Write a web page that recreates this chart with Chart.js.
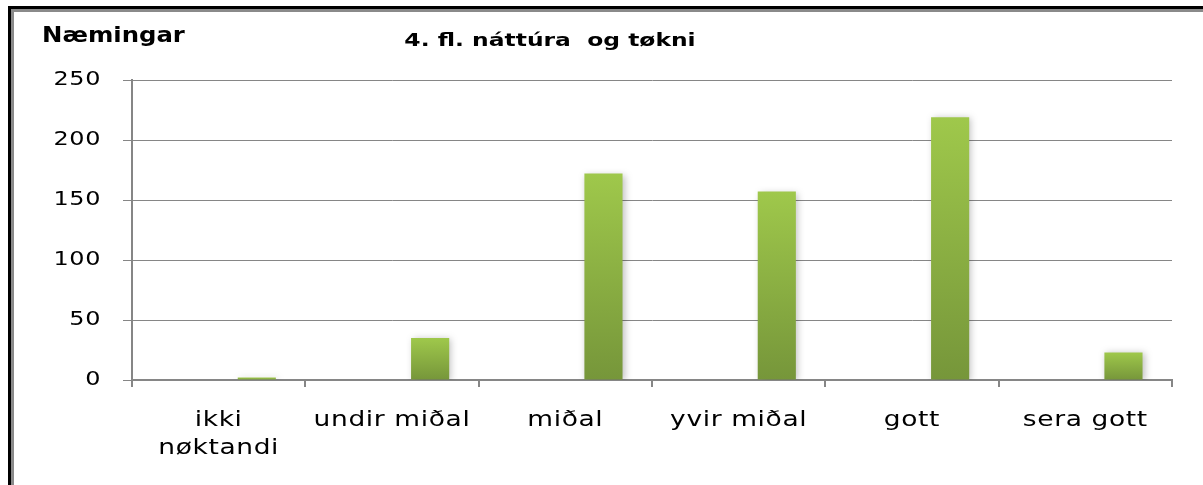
<!DOCTYPE html>
<html>
<head>
<meta charset="utf-8">
<script src="https://cdn.jsdelivr.net/npm/chart.js@4"></script>
<style>
  html, body { margin: 0; padding: 0; background: #fff; }
  #wrap { position: relative; width: 1203px; height: 485px; }
</style>
</head>
<body>
<div id="wrap"><canvas id="chart" width="1203" height="485"></canvas></div>
<script>
// data
const categories = [['ikki', 'nøktandi'], 'undir miðal', 'miðal', 'yvir miðal', 'gott', 'sera gott'];
const emptyA = [null, null, null, null, null, null];
const emptyB = [null, null, null, null, null, null];
const pupils = [2, 35, 172, 157, 219, 23];
const yTicks = [0, 50, 100, 150, 200, 250];

const yTitle = 'Næmingar';
const chartTitle = '4. fl. náttúra  og tøkni';

// the original text is drawn wide, so stretch glyphs horizontally
let textStretch = 1.26;

// gradient for each bar, light on top, darker at the base
function barGradient(context) {
  const chart = context.chart;
  const y = chart.scales.y;
  if (!y || !context.parsed || context.parsed.y == null) return '#8db342';
  const top = y.getPixelForValue(context.parsed.y);
  const base = y.getPixelForValue(0);
  if (!isFinite(top) || !isFinite(base) || top === base) return '#8db342';
  const g = chart.ctx.createLinearGradient(0, top, 0, base);
  g.addColorStop(0, '#9fc84b');
  g.addColorStop(1, '#76963a');
  return g;
}

const decor = {
  id: 'decor',
  beforeInit(chart) {
    const ctx = chart.ctx;
    const fill = ctx.fillText;
    ctx.fillText = function(text, x, y) {
      this.save();
      this.translate(x, y);
      this.scale(textStretch, 1);
      fill.call(this, text, 0, 0);
      this.restore();
    };
  },
  beforeDraw(chart) {
    chart.ctx.letterSpacing = '0.5px';
  },
  beforeDatasetsDraw(chart) {
    const ctx = chart.ctx;
    ctx.save();
    ctx.shadowColor = 'rgba(0, 0, 0, 0.25)';
    ctx.shadowBlur = 7;
    ctx.shadowOffsetX = 2;
    ctx.shadowOffsetY = 1;
  },
  afterDatasetsDraw(chart) {
    chart.ctx.restore();
  },
  afterDraw(chart) {
    const ctx = chart.ctx;
    ctx.save();
    // frame on the left and top
    ctx.fillStyle = '#000';
    ctx.fillRect(8, 6, 3, chart.height - 6);
    ctx.fillRect(8, 6, chart.width - 8, 3);
    ctx.fillStyle = '#8a8a8a';
    ctx.fillRect(11, 9, 3, chart.height - 9);
    ctx.fillRect(11, 9, chart.width - 11, 3);

    ctx.fillStyle = '#000';
    ctx.textBaseline = 'middle';
    ctx.letterSpacing = '0px';
    textStretch = 1.16;
    ctx.font = 'bold 21px "DejaVu Sans"';
    ctx.textAlign = 'left';
    ctx.fillText(yTitle, 42, 37);

    textStretch = 1.3;
    ctx.font = 'bold 18px "DejaVu Sans"';
    ctx.textAlign = 'center';
    ctx.fillText(chartTitle, 550, 41);
    textStretch = 1.26;
    ctx.restore();
    ctx.letterSpacing = '0px';
  }
};

new Chart(document.getElementById('chart'), {
  type: 'bar',
  data: {
    labels: categories,
    datasets: [
      { label: 'a', data: emptyA, backgroundColor: '#4f81bd' },
      { label: 'b', data: emptyB, backgroundColor: '#c0504d' },
      { label: 'Næmingar', data: pupils, backgroundColor: barGradient }
    ]
  },
  options: {
    responsive: false,
    animation: false,
    devicePixelRatio: 1,
    categoryPercentage: 0.66,
    barPercentage: 1,
    layout: { padding: { top: 80, right: 31, left: 0, bottom: 0 } },
    plugins: {
      legend: { display: false },
      tooltip: { enabled: false },
      title: { display: false }
    },
    scales: {
      x: {
        afterFit(scale) { scale.height = 105; },
        grid: {
          drawOnChartArea: false,
          drawTicks: true,
          tickLength: 7,
          color: '#868686',
          lineWidth: 2
        },
        border: { color: '#868686', width: 2 },
        ticks: {
          color: '#000',
          maxRotation: 0,
          autoSkip: false,
          padding: 19,
          font: { family: '"DejaVu Sans"', size: 21, lineHeight: 1.34 }
        }
      },
      y: {
        min: 0,
        max: 250,
        afterFit(scale) { scale.width = 132; },
        afterBuildTicks(scale) { scale.ticks = yTicks.map(v => ({ value: v })); },
        grid: {
          color: '#868686',
          lineWidth: 1,
          drawTicks: true,
          tickLength: 9
        },
        border: { color: '#868686', width: 2 },
        ticks: {
          color: '#000',
          padding: 22,
          font: { family: '"DejaVu Sans"', size: 19 }
        }
      }
    }
  },
  plugins: [decor]
});
</script>
</body>
</html>
